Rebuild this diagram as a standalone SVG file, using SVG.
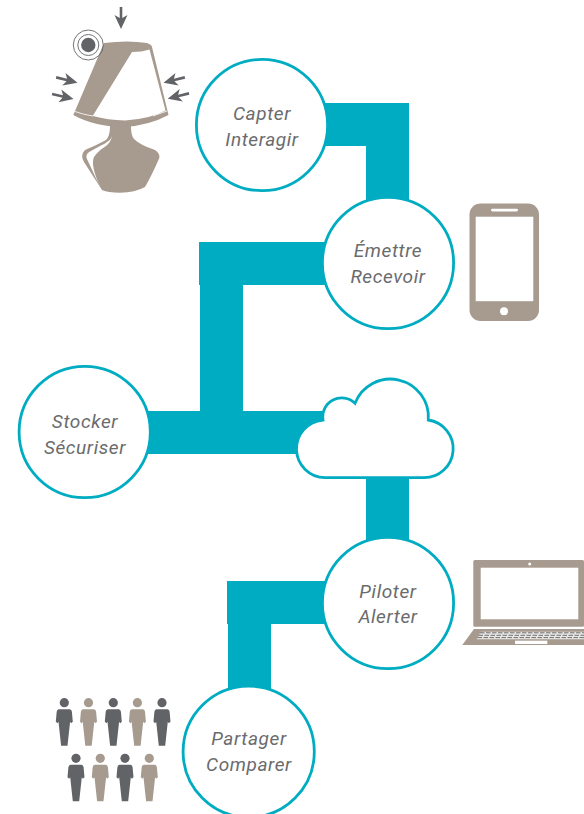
<svg xmlns="http://www.w3.org/2000/svg" width="584" height="814" viewBox="0 0 584 814">
<style>
.c{fill:#fff;stroke:#00acc2;stroke-width:2.800}
.t{font-family:Roboto,"Liberation Sans",sans-serif;font-style:italic;font-weight:400;font-size:19px;fill:#6a6b6d;text-anchor:middle;letter-spacing:.6px}
.b{fill:#a79a8f}.d{fill:#616366}.w{fill:#fff}
</style>
<defs>
<g id="m"><circle r="4.600"/><path d="M-5.500 6.500H5.500Q7.300 6.500 7.600 9L8.500 19 6.800 20.500 5.800 19 3.200 43H-3.200L-5.800 19-6.800 20.500-8.500 19-7.600 9Q-7.300 6.500-5.500 6.500Z"/></g>
<path id="ar" d="M0 0L-14-6.500-11-1.300H-22V1.300H-11L-14 6.500Z"/>
</defs>
<g id="connectors" fill="#00acc2">
<path d="M300 103H409V230H366V146H300Z"/>
<path d="M199 242H340V285H243V420H200V285H199Z"/>
<rect x="140" y="411" width="200" height="43"/>
<rect x="366" y="470" width="43" height="90"/>
<path d="M227 581H340V624H271V700H228V624H227Z"/>
</g>
<g id="node-lamp">
<path class="b" d="M104 43Q128 40 147 43Q152 45 152 47L168.500 115Q150 125 125 127Q95 127 73.300 115Z"/>
<path class="w" d="M132 52Q142 52 149.500 49.500L165.500 110.500Q150 119 125 120.500Q108 120 92.700 116Z"/>
<path d="M75 111.500Q83 114.500 93 116M153 116L167 111" fill="none" stroke="#fff" stroke-width=".8"/>
<path class="b" d="M110 126H131Q131 136 134 139Q140 145 155 150Q160 153 159.300 158Q152 175 145 187Q135 192.700 120 192.700Q108 192.700 102 190L84 162Q80 155 85 150Q97 145 106 140Q110 136 110 126Z"/>
<path class="w" d="M112 136Q111 141 100 146L90 151.500Q85 154 87 159L101 189Q90 165 94 157Q98 151 106 146Q111 142 112 136Z"/>
<circle class="d" cx="88.300" cy="45" r="7.200"/>
<g fill="none" stroke="#616366" stroke-width=".9"><circle cx="88.300" cy="45" r="10.500"/><circle cx="88.300" cy="45" r="15"/></g>
<use class="d" href="#ar" transform="translate(121 29) rotate(90)"/>
<use class="d" href="#ar" transform="translate(77.500 82.700) rotate(14)"/>
<use class="d" href="#ar" transform="translate(73.500 99) rotate(13)"/>
<use class="d" href="#ar" transform="translate(163.500 82.700) rotate(166)"/>
<use class="d" href="#ar" transform="translate(167.700 98.700) rotate(166)"/>
</g>
<g id="node-phone">
<rect class="b" x="469.500" y="203.500" width="69.500" height="117.500" rx="11"/>
<rect class="w" x="475.700" y="216.700" width="57.600" height="84.500"/>
<rect class="w" x="491" y="208.700" width="27" height="2.800" rx="1.400"/>
<circle class="w" cx="504" cy="311.300" r="4"/>
</g>
<g id="node-laptop">
<rect class="b" x="473.300" y="560" width="110.700" height="66.700" rx="1.500"/>
<rect class="w" x="480.700" y="567.700" width="97.600" height="51.600"/>
<circle class="w" cx="529.700" cy="564" r="1.500"/>
<path class="b" d="M474 629H584V645H462.300Z"/>
<path d="M480.700 631.700H584V639.300H476.700Z" fill="#e8e6e3"/>
<path d="M480 632.800H584M478.500 635.300H584M477.500 637.600H584" stroke="#616366" stroke-width=".9" stroke-dasharray="4.500 1.500"/>
<rect class="w" x="515" y="640.700" width="32.300" height="3.300"/>
</g>
<g id="node-people">
<use class="d" href="#m" transform="translate(64.300 702.700)"/>
<use class="b" href="#m" transform="translate(88.500 702.700)"/>
<use class="d" href="#m" transform="translate(113.300 702.700)"/>
<use class="b" href="#m" transform="translate(137.400 702.700)"/>
<use class="d" href="#m" transform="translate(162 702.700)"/>
<use class="d" href="#m" transform="translate(76 758.300)"/>
<use class="b" href="#m" transform="translate(100.300 758.300)"/>
<use class="d" href="#m" transform="translate(125 758.300)"/>
<use class="b" href="#m" transform="translate(149.300 758.300)"/>
</g>
<g id="node-cloud">
<path class="c" d="M325 477.700A28.900 28.900 0 0 1 323 420A19 19 0 0 1 355 403.300A38 38 0 0 1 428.300 420A29 29 0 0 1 424 477.700Z"/>
</g>
<g id="node-capter"><circle class="c" cx="262" cy="125" r="65.600"/><text class="t" x="262" y="120">Capter</text><text class="t" x="262" y="146">Interagir</text></g>
<g id="node-emettre"><circle class="c" cx="388" cy="263" r="65.600"/><text class="t" x="388" y="257">Émettre</text><text class="t" x="388" y="283">Recevoir</text></g>
<g id="node-stocker"><circle class="c" cx="84.700" cy="432" r="65.600"/><text class="t" x="85" y="428">Stocker</text><text class="t" x="85" y="454">Sécuriser</text></g>
<g id="node-piloter"><circle class="c" cx="388" cy="603" r="65.600"/><text class="t" x="388" y="598">Piloter</text><text class="t" x="388" y="623">Alerter</text></g>
<g id="node-partager"><circle class="c" cx="248.700" cy="751.700" r="65.600"/><text class="t" x="249" y="745">Partager</text><text class="t" x="249" y="771">Comparer</text></g>
</svg>
